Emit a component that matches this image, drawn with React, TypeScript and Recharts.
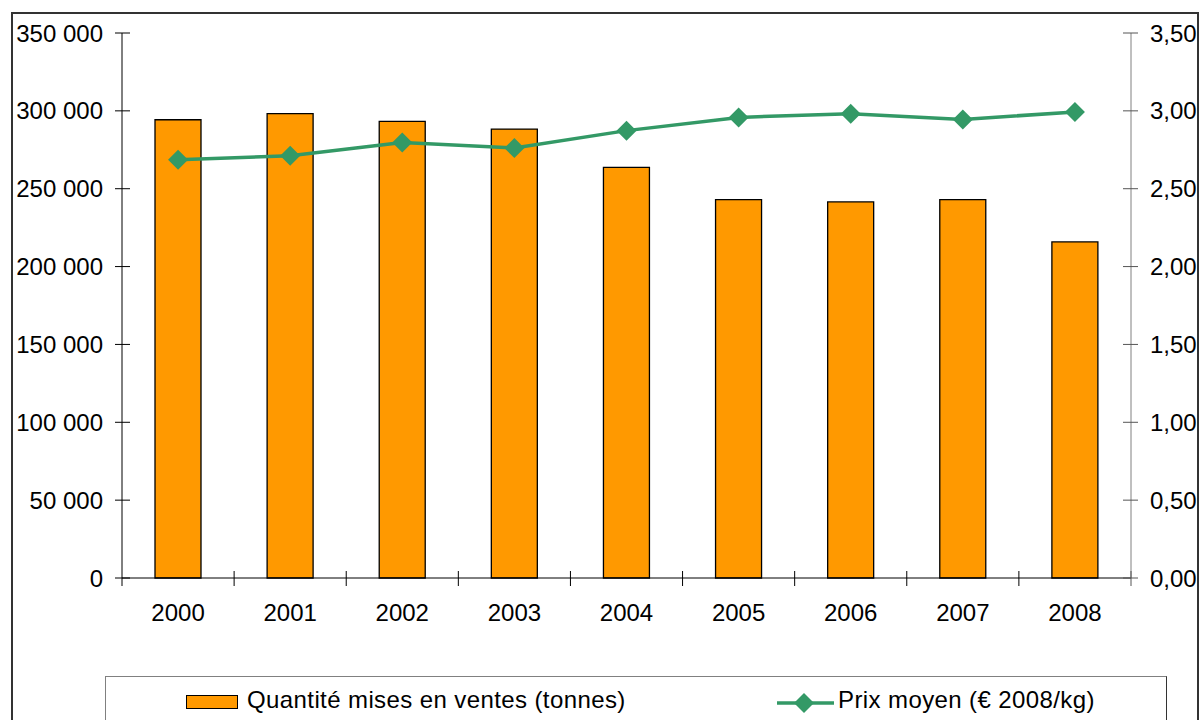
import { Bar, ComposedChart, Line, XAxis, YAxis } from "recharts";

const years = ["2000", "2001", "2002", "2003", "2004", "2005", "2006", "2007", "2008"];
const tonnes = [294300, 298200, 293200, 288300, 263700, 243000, 241500, 243000, 215800];
const prix = [2.686, 2.712, 2.797, 2.761, 2.873, 2.958, 2.982, 2.945, 2.993];
const tonnesTicks = [0, 50000, 100000, 150000, 200000, 250000, 300000, 350000];
const prixTicks = [0, 0.5, 1, 1.5, 2, 2.5, 3, 3.5];

const W = 1200;
const H = 720;
const LEFT_W = 122;
const RIGHT_W = 69;
const BAND = (W - LEFT_W - RIGHT_W) / years.length;
const FONT = "'Liberation Sans', Arial, sans-serif";
const FS = 24;
const ORANGE = "#FF9900";
const GREEN = "#339966";

const data = years.map((year, i) => ({ year, tonnes: tonnes[i], prix: prix[i] }));

const fmtTonnes = (v: number) => (v === 0 ? "0" : `${Math.round(v / 1000)} 000`);
const fmtPrix = (v: number) => v.toFixed(2).replace(".", ",");

// left axis: label right-aligned, tick crossing the axis line
function LeftTick(props: any) {
  const { x, y, payload } = props;
  return (
    <g>
      <line x1={x + 12} x2={x + 27} y1={y} y2={y} stroke="#000" />
      <text x={x} y={y} dy={8.5} textAnchor="end" fontSize={FS} fill="#000" fontFamily={FONT}>
        {fmtTonnes(payload.value)}
      </text>
    </g>
  );
}

function RightTick(props: any) {
  const { x, y, payload } = props;
  return (
    <g>
      <line x1={x - 27} x2={x - 12} y1={y} y2={y} stroke="#555" />
      <text x={x} y={y} dy={8.5} textAnchor="start" fontSize={FS} fill="#000" fontFamily={FONT}>
        {fmtPrix(payload.value)}
      </text>
    </g>
  );
}

// category ticks sit on the band edges, not the centres
function YearTick(props: any) {
  const { x, y, payload, index } = props;
  const left = x - BAND / 2;
  const right = x + BAND / 2;
  return (
    <g>
      <line x1={left} x2={left} y1={index === 0 ? y - 8 : y - 15} y2={y} stroke="#000" />
      {index === years.length - 1 && <line x1={right} x2={right} y1={y - 15} y2={y} stroke="#555" />}
      <text x={x} y={y + 35} textAnchor="middle" fontSize={FS} fill="#000" fontFamily={FONT}>
        {payload.value}
      </text>
    </g>
  );
}

function Diamond(props: any) {
  const { cx, cy } = props;
  if (cx == null || cy == null) return null;
  const r = 10;
  return <polygon points={`${cx},${cy - r} ${cx + r},${cy} ${cx},${cy + r} ${cx - r},${cy}`} fill={GREEN} />;
}

const legendText = {
  position: "absolute" as const,
  top: 9,
  fontSize: FS,
  letterSpacing: 0.4,
  lineHeight: "28px",
  color: "#000",
  whiteSpace: "nowrap" as const,
};

export default function App() {
  return (
    <div style={{ position: "absolute", left: 0, top: 0, width: W, height: H, overflow: "hidden", background: "#fff", fontFamily: FONT }}>
      <div
        style={{
          position: "absolute",
          left: 11,
          top: 12,
          width: 1188,
          height: 760,
          boxSizing: "border-box",
          border: "2px solid #333",
        }}
      />
      <div style={{ position: "absolute", left: 0, top: 0 }}>
        <ComposedChart width={W} height={H} data={data} margin={{ top: 33, right: 0, bottom: 112, left: 0 }}>
          <XAxis
            dataKey="year"
            xAxisId="x"
            height={30}
            axisLine={{ stroke: "#000" }}
            tickLine={false}
            tickSize={8}
            tickMargin={0}
            tick={<YearTick />}
            interval={0}
          />
          <YAxis
            yAxisId="left"
            orientation="left"
            width={LEFT_W}
            domain={[0, 350000]}
            ticks={tonnesTicks}
            axisLine={{ stroke: "#000" }}
            tickLine={false}
            tickSize={7}
            tickMargin={12}
            tick={<LeftTick />}
          />
          <YAxis
            yAxisId="right"
            orientation="right"
            width={RIGHT_W}
            domain={[0, 3.5]}
            ticks={prixTicks}
            axisLine={{ stroke: "#808080" }}
            tickLine={false}
            tickSize={7}
            tickMargin={12}
            tick={<RightTick />}
          />
          <Bar
            xAxisId="x"
            yAxisId="left"
            dataKey="tonnes"
            fill={ORANGE}
            stroke="#000"
            strokeWidth={1.3}
            barSize={46}
            isAnimationActive={false}
          />
          <Line
            xAxisId="x"
            yAxisId="right"
            dataKey="prix"
            stroke={GREEN}
            strokeWidth={3.5}
            dot={<Diamond />}
            activeDot={false}
            isAnimationActive={false}
          />
        </ComposedChart>
      </div>
      <div
        style={{
          position: "absolute",
          left: 105,
          top: 676,
          width: 1062,
          height: 80,
          boxSizing: "border-box",
          borderTop: "1.5px solid #808080",
          borderLeft: "1px solid #808080",
          borderRight: "1.5px solid #333",
        }}
      >
        <div style={{ position: "absolute", left: 80, top: 18, width: 52, height: 14, boxSizing: "border-box", background: ORANGE, border: "1.5px solid #000" }} />
        <div style={{ ...legendText, left: 141 }}>Quantité mises en ventes (tonnes)</div>
        <svg style={{ position: "absolute", left: 670, top: 14 }} width={60} height={24}>
          <line x1={1} x2={58} y1={12} y2={12} stroke={GREEN} strokeWidth={3.5} />
          <polygon points="28,2 38,12 28,22 18,12" fill={GREEN} />
        </svg>
        <div style={{ ...legendText, left: 732 }}>Prix moyen (€ 2008/kg)</div>
      </div>
    </div>
  );
}
